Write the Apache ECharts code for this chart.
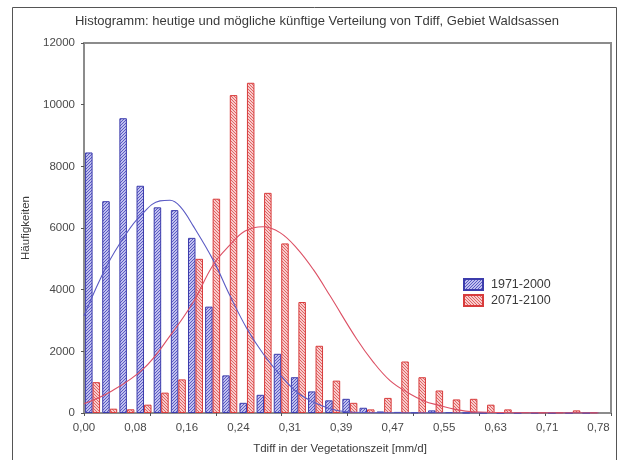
<!DOCTYPE html>
<html><head><meta charset="utf-8">
<script src="https://cdn.jsdelivr.net/npm/echarts@6/dist/echarts.min.js"></script>
<style>html,body{margin:0;padding:0;background:#fff}#c{width:625px;height:460px}</style>
</head><body><div id="c"></div>
<script>
const chartTitle = 'Histogramm: heutige und mögliche künftige Verteilung von Tdiff, Gebiet Waldsassen';
const xName = 'Tdiff in der Vegetationszeit [mm/d]';
const yName = 'Häufigkeiten';
const seriesNames = ['1971-2000', '2071-2100'];
const xTickLabels = ['0,00','0,08','0,16','0,24','0,31','0,39','0,47','0,55','0,63','0,71','0,78'];
const xTickStep = 0.0785;
const binCount = 30;
const binWidth = 0.785 / binCount;
// bar heights per bin
const counts1971 = [8450, 6870, 9560, 7370, 6670, 6580, 5680, 3450, 1220, 330, 590, 1920, 1160, 700, 410, 460, 170, 50, 35, 20, 85, 30, 10, 5, 0, 0, 5, 0, 0, 0];
const counts2071 = [1000, 140, 120, 270, 660, 1090, 5000, 6950, 10310, 10710, 7140, 5500, 3600, 2180, 1050, 330, 117, 490, 1670, 1160, 730, 440, 460, 270, 117, 30, 20, 20, 85, 20];
// fitted curves
const curveX1971 = [0, 0.0346, 0.0652, 0.0854, 0.116, 0.1312, 0.1465, 0.1668, 0.1973, 0.2228, 0.2482, 0.2736, 0.2991, 0.3245, 0.3499, 0.3753, 0.4008, 0.4516, 0.785];
const curveY1971 = [3150, 4770, 5840, 6380, 6880, 6900, 6700, 6060, 4950, 3800, 2750, 1915, 1240, 680, 355, 140, 40, 5, 0];
const curveX2071 = [0, 0.0397, 0.0905, 0.1312, 0.1668, 0.197, 0.2228, 0.2457, 0.2731, 0.299, 0.3245, 0.35, 0.3754, 0.416, 0.4414, 0.4669, 0.4924, 0.5177, 0.5432, 0.5687, 0.5935, 0.65, 0.785];
const curveY2071 = [300, 680, 1430, 2500, 3600, 4800, 5450, 5900, 6040, 5850, 5350, 4650, 3800, 2400, 1650, 1050, 680, 400, 240, 110, 40, 10, 0];

function hatch(bg, fg, dir) {
  const n = 3;
  const c = document.createElement('canvas');
  c.width = n; c.height = n;
  const g = c.getContext('2d');
  g.fillStyle = bg; g.fillRect(0, 0, n, n);
  g.strokeStyle = fg; g.lineWidth = 1;
  g.beginPath();
  if (dir > 0) {
    g.moveTo(0, n); g.lineTo(n, 0); g.moveTo(-1, 1); g.lineTo(1, -1); g.moveTo(n - 1, n + 1); g.lineTo(n + 1, n - 1);
  } else {
    g.moveTo(0, 0); g.lineTo(n, n); g.moveTo(-1, n - 1); g.lineTo(1, n + 1); g.moveTo(n - 1, -1); g.lineTo(n + 1, 1);
  }
  g.stroke();
  return c;
}
const blueFill = { image: hatch('#c0c0ee', '#5a5ac4', 1), repeat: 'repeat' };
const redFill = { image: hatch('#f8cccc', '#e06464', -1), repeat: 'repeat' };

const chart = echarts.init(document.getElementById('c'), null, { renderer: 'canvas' });
const font = 'Liberation Sans, Arial, sans-serif';
chart.setOption({
  animation: false,
  backgroundColor: '#fff',
  textStyle: { fontFamily: font },
  graphic: [
    { type: 'rect', shape: { x: 12.5, y: 7.5, width: 604, height: 470 }, style: { fill: null, stroke: '#555', lineWidth: 1 }, silent: true },
    { type: 'text', style: { x: 317, y: 21, text: chartTitle, textAlign: 'center', textVerticalAlign: 'middle', font: '13px ' + font, fill: '#3a3a3a' }, silent: true }
  ],
  grid: { left: 84, right: 14, top: 43, bottom: 46, show: true, borderColor: '#8c8c8c', borderWidth: 2, backgroundColor: 'transparent' },
  legend: {
    orient: 'vertical', left: 458, top: 273, itemWidth: 19, itemHeight: 11, itemGap: 3,
    data: seriesNames, icon: 'rect',
    textStyle: { fontSize: 12.5, color: '#3a3a3a', padding: [0, 0, 0, 3] }
  },
  xAxis: [
    {
      type: 'value', min: 0, max: 0.804, interval: xTickStep, position: 'bottom',
      axisLine: { show: false }, axisTick: { show: false }, splitLine: { show: false },
      axisLabel: {
        color: '#4a4a4a', fontSize: 11.5, margin: 9, showMaxLabel: false,
        formatter: function (v) {
          const k = Math.round(v / xTickStep);
          if (Math.abs(v - k * xTickStep) < 1e-6 && k < xTickLabels.length) return xTickLabels[k];
          return '';
        }
      },
      name: xName, nameLocation: 'middle', nameGap: 30,
      nameTextStyle: { color: '#3a3a3a', fontSize: 11.5, padding: [0, 15, 0, 0] }
    },
    {
      type: 'value', position: 'top', min: 0, max: 8, interval: 1,
      axisLine: { show: false }, axisTick: { show: true, inside: true, length: 3, lineStyle: { color: '#555' } },
      axisLabel: { show: false }, splitLine: { show: false }
    }
  ],
  yAxis: [
    {
      type: 'value', min: 0, max: 12000, interval: 2000,
      axisLine: { show: false }, axisTick: { show: true, length: 3, lineStyle: { color: '#555' } },
      axisLabel: { color: '#4a4a4a', fontSize: 11.5, margin: 9, formatter: function (v) { return String(v); } },
      splitLine: { show: false },
      name: yName, nameLocation: 'middle', nameGap: 45,
      nameTextStyle: { color: '#3a3a3a', fontSize: 11.5 }
    },
    {
      type: 'value', position: 'right', min: 0, max: 12000, interval: 2000,
      axisLine: { show: false }, axisTick: { show: true, inside: true, length: 3, lineStyle: { color: '#555' } },
      axisLabel: { show: false }, splitLine: { show: false }
    }
  ],
  series: [
    {
      name: seriesNames[0], type: 'bar', xAxisIndex: 0, yAxisIndex: 0, barWidth: 7.5, barGap: '0%',
      data: counts1971.map((v, i) => [(i + 0.5) * binWidth, v]),
      itemStyle: { color: blueFill, borderColor: '#3c3cac', borderWidth: 1 },
      emphasis: { disabled: true }
    },
    {
      name: seriesNames[1], type: 'bar', xAxisIndex: 0, yAxisIndex: 0, barWidth: 7.5, barGap: '0%',
      data: counts2071.map((v, i) => [(i + 0.5) * binWidth, v]),
      itemStyle: { color: redFill, borderColor: '#d83c3c', borderWidth: 1 },
      emphasis: { disabled: true }
    },
    {
      name: 'Fit 1971-2000', type: 'line', xAxisIndex: 0, yAxisIndex: 0, smooth: 0.4, symbol: 'none', z: 5,
      data: curveX1971.map((x, i) => [x, curveY1971[i]]),
      lineStyle: { color: '#5a5ac4', width: 1.1 }, emphasis: { disabled: true }
    },
    {
      name: 'Fit 2071-2100', type: 'line', xAxisIndex: 0, yAxisIndex: 0, smooth: 0.4, symbol: 'none', z: 5,
      data: curveX2071.map((x, i) => [x, curveY2071[i]]),
      lineStyle: { color: '#dc5064', width: 1.1 }, emphasis: { disabled: true }
    }
  ]
});
</script>
</body></html>
